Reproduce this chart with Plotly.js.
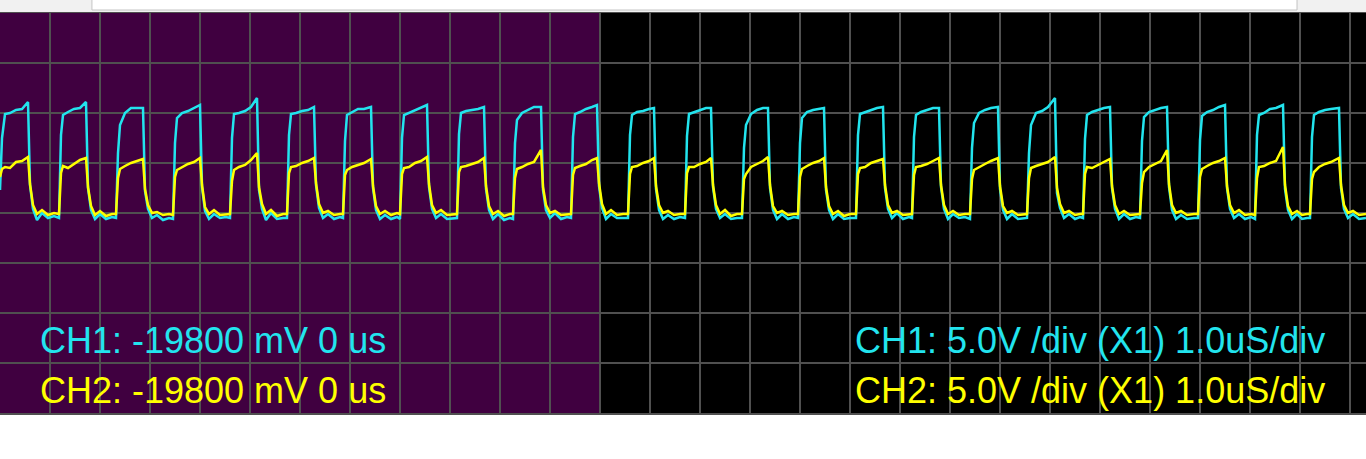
<!DOCTYPE html>
<html>
<head>
<meta charset="utf-8">
<script src="https://cdn.plot.ly/plotly-3.0.1.min.js"></script>
<style>
html,body{margin:0;padding:0;background:#ffffff;}
#chart{width:1366px;height:459px;}
</style>
</head>
<body>
<div id="chart"></div>
<script>
// Time axis in microseconds (1.0 us per division)
var timeUs = [
  0, 0.04, 0.1, 0.2, 0.32, 0.44, 0.56, 0.6, 0.66, 0.74, 0.84, 0.96, 1.08,
  1.18, 1.22, 1.26, 1.36, 1.48, 1.6, 1.72, 1.76, 1.82, 1.9, 2.0, 2.12, 2.24,
  2.32, 2.36, 2.4, 2.5, 2.62, 2.74, 2.86, 2.9, 2.96, 3.04, 3.14, 3.26, 3.38,
  3.46, 3.5, 3.54, 3.64, 3.76, 3.88, 4.0, 4.04, 4.1, 4.18, 4.28, 4.4, 4.52,
  4.6, 4.64, 4.68, 4.78, 4.9, 5.02, 5.14, 5.18, 5.24, 5.32, 5.42, 5.54, 5.66,
  5.74, 5.78, 5.82, 5.92, 6.04, 6.16, 6.28, 6.32, 6.38, 6.46, 6.56, 6.68, 6.8,
  6.86, 6.9, 6.94, 7.04, 7.16, 7.28, 7.42, 7.46, 7.52, 7.6, 7.7, 7.82, 7.94,
  8.0, 8.04, 8.08, 8.18, 8.3, 8.42, 8.54, 8.58, 8.64, 8.72, 8.82, 8.94, 9.06,
  9.14, 9.18, 9.22, 9.32, 9.44, 9.56, 9.68, 9.72, 9.78, 9.86, 9.96, 10.08, 10.2,
  10.26, 10.3, 10.34, 10.44, 10.56, 10.68, 10.82, 10.86, 10.92, 11.0, 11.1, 11.22, 11.34,
  11.42, 11.46, 11.5, 11.6, 11.72, 11.84, 11.94, 11.98, 12.04, 12.12, 12.22, 12.34, 12.46,
  12.56, 12.6, 12.64, 12.74, 12.86, 12.98, 13.08, 13.12, 13.18, 13.26, 13.36, 13.48, 13.6,
  13.7, 13.74, 13.78, 13.88, 14.0, 14.12, 14.22, 14.26, 14.32, 14.4, 14.5, 14.62, 14.74,
  14.84, 14.88, 14.92, 15.02, 15.14, 15.26, 15.36, 15.4, 15.46, 15.54, 15.64, 15.76, 15.88,
  15.96, 16.0, 16.04, 16.14, 16.26, 16.38, 16.48, 16.52, 16.58, 16.66, 16.76, 16.88, 17.0,
  17.12, 17.16, 17.2, 17.3, 17.42, 17.54, 17.66, 17.7, 17.76, 17.84, 17.94, 18.06, 18.18,
  18.24, 18.28, 18.32, 18.42, 18.54, 18.66, 18.78, 18.82, 18.88, 18.96, 19.06, 19.18, 19.3,
  19.4, 19.44, 19.48, 19.58, 19.7, 19.82, 19.96, 20.0, 20.06, 20.14, 20.24, 20.36, 20.48,
  20.54, 20.58, 20.62, 20.72, 20.84, 20.96, 21.1, 21.14, 21.2, 21.28, 21.38, 21.5, 21.6,
  21.66, 21.7, 21.74, 21.84, 21.96, 22.08, 22.2, 22.24, 22.3, 22.38, 22.48, 22.6, 22.72,
  22.8, 22.84, 22.88, 22.98, 23.1, 23.22, 23.34, 23.38, 23.44, 23.52, 23.62, 23.74, 23.88,
  23.96, 24.0, 24.04, 24.14, 24.26, 24.38, 24.5, 24.54, 24.6, 24.68, 24.78, 24.9, 25.02,
  25.1, 25.14, 25.18, 25.28, 25.4, 25.52, 25.66, 25.7, 25.76, 25.84, 25.94, 26.04, 26.14,
  26.2, 26.24, 26.28, 26.38, 26.5, 26.62, 26.78, 26.82, 26.88, 26.96, 27.06, 27.18, 27.32
];

// CH1 (cyan) in volts
var ch1Volts = [
  2.3, 7.5, 9.9, 10.0, 10.3, 10.4, 11.1, 2.8, 0.4, -0.7, 0.0, -0.5, -0.3,
  -0.5, 7.8, 9.8, 10.1, 10.4, 10.5, 11.1, 2.5, 0.3, -0.6, -0.1, -0.6, -0.4,
  -0.5, 6.0, 8.8, 10.0, 10.5, 10.5, 10.5, 2.2, 0.4, -0.5, -0.2, -0.7, -0.5,
  -0.6, 7.0, 9.5, 10.0, 10.2, 10.5, 10.8, 2.6, 0.2, -0.6, -0.1, -0.5, -0.4,
  -0.5, 7.5, 9.9, 10.0, 10.2, 10.6, 11.5, 2.3, 0.4, -0.7, 0.0, -0.6, -0.5,
  -0.5, 7.8, 9.9, 10.0, 10.2, 10.3, 10.6, 2.8, 0.5, -0.5, -0.1, -0.6, -0.4,
  -0.5, 7.2, 9.8, 10.1, 10.4, 10.4, 10.6, 2.5, 0.3, -0.6, -0.2, -0.6, -0.4,
  -0.6, 7.5, 9.8, 10.0, 10.3, 10.5, 10.8, 2.6, 0.4, -0.5, -0.1, -0.6, -0.5,
  -0.5, 7.9, 10.0, 10.2, 10.3, 10.4, 10.6, 2.4, 0.3, -0.6, -0.1, -0.7, -0.5,
  -0.6, 7.0, 9.3, 10.0, 10.3, 10.6, 10.6, 2.3, 0.3, -0.5, 0.0, -0.6, -0.4,
  -0.5, 7.6, 9.9, 10.1, 10.4, 10.6, 10.8, 2.7, 0.5, -0.6, -0.1, -0.5, -0.5,
  -0.5, 7.8, 9.8, 10.1, 10.2, 10.4, 10.5, 2.4, 0.3, -0.6, -0.2, -0.6, -0.4,
  -0.5, 7.7, 9.9, 10.1, 10.3, 10.5, 10.5, 2.6, 0.4, -0.5, -0.1, -0.6, -0.5,
  -0.5, 6.5, 8.8, 9.9, 10.3, 10.5, 10.5, 2.5, 0.3, -0.6, -0.1, -0.6, -0.4,
  -0.5, 7.0, 9.5, 10.1, 10.3, 10.4, 10.5, 2.3, 0.3, -0.6, -0.1, -0.6, -0.5,
  -0.5, 7.8, 9.9, 10.1, 10.3, 10.5, 10.6, 2.5, 0.4, -0.5, 0.0, -0.6, -0.4,
  -0.5, 7.6, 9.8, 10.1, 10.3, 10.5, 10.5, 2.6, 0.4, -0.6, -0.1, -0.5, -0.4,
  -0.6, 6.5, 9.0, 10.0, 10.3, 10.5, 10.6, 2.4, 0.3, -0.6, -0.1, -0.6, -0.5,
  -0.5, 6.0, 8.8, 10.0, 10.2, 10.6, 11.5, 2.0, 0.5, -0.5, -0.1, -0.6, -0.4,
  -0.5, 7.4, 9.8, 10.1, 10.3, 10.5, 10.6, 2.5, 0.4, -0.6, -0.1, -0.6, -0.4,
  -0.5, 7.2, 9.6, 10.1, 10.3, 10.5, 10.6, 2.6, 0.3, -0.6, -0.2, -0.6, -0.5,
  -0.5, 7.3, 9.7, 10.1, 10.3, 10.6, 10.8, 2.5, 0.4, -0.5, -0.1, -0.6, -0.4,
  -0.6, 7.8, 9.8, 10.0, 10.4, 10.5, 10.8, 2.4, 0.3, -0.6, -0.1, -0.6, -0.5,
  -0.5, 7.6, 9.8, 10.1, 10.3, 10.4, 10.5, 2.5, 0.4, -0.5, -0.1, -0.6, -0.5
];

// CH2 (yellow) in volts
var ch2Volts = [
  3.6, 4.4, 4.6, 4.5, 5.1, 5.2, 5.6, 2.9, 0.8, -0.1, 0.3, -0.2, 0.0,
  -0.1, 4.0, 4.7, 4.5, 4.9, 5.3, 5.5, 2.6, 0.7, -0.2, 0.2, -0.3, -0.1,
  -0.1, 3.5, 4.4, 4.7, 5.0, 5.2, 5.4, 2.4, 0.8, 0.0, 0.1, -0.2, -0.1,
  -0.2, 3.6, 4.3, 4.6, 4.9, 5.1, 5.5, 2.8, 0.6, -0.1, 0.3, -0.2, -0.1,
  -0.1, 3.2, 4.3, 4.6, 4.8, 5.3, 6.0, 2.6, 0.9, -0.1, 0.3, -0.3, -0.1,
  -0.1, 4.0, 4.6, 4.7, 5.0, 5.2, 5.5, 3.0, 0.9, 0.0, 0.2, -0.2, -0.1,
  -0.1, 3.8, 4.3, 4.6, 4.8, 5.0, 5.4, 2.7, 0.7, -0.1, 0.2, -0.2, 0.0,
  -0.1, 3.9, 4.5, 4.6, 5.0, 5.2, 5.6, 2.9, 0.8, 0.0, 0.3, -0.2, -0.1,
  -0.1, 4.1, 4.6, 4.7, 4.9, 5.1, 5.5, 2.7, 0.7, -0.1, 0.2, -0.3, -0.1,
  -0.1, 3.5, 4.4, 4.6, 4.9, 5.1, 6.3, 2.6, 0.8, 0.0, 0.2, -0.2, -0.1,
  -0.1, 3.8, 4.5, 4.7, 4.9, 5.3, 5.5, 3.0, 0.9, -0.1, 0.3, -0.2, -0.1,
  -0.1, 3.9, 4.6, 4.7, 5.0, 5.2, 5.5, 2.7, 0.8, 0.0, 0.2, -0.2, -0.1,
  -0.1, 4.0, 4.6, 4.6, 4.9, 5.1, 5.5, 2.8, 0.8, -0.1, 0.3, -0.3, -0.1,
  -0.1, 3.4, 3.9, 4.6, 4.9, 5.2, 5.6, 2.8, 0.7, 0.0, 0.2, -0.2, -0.1,
  -0.1, 3.6, 4.4, 4.7, 5.0, 5.2, 5.5, 2.6, 0.7, -0.1, 0.2, -0.3, -0.1,
  -0.1, 3.9, 4.5, 4.6, 5.0, 5.2, 5.4, 2.8, 0.8, 0.0, 0.2, -0.2, -0.1,
  -0.1, 3.8, 4.6, 4.7, 4.9, 5.2, 5.5, 2.8, 0.8, -0.1, 0.2, -0.2, -0.1,
  -0.1, 3.4, 4.3, 4.6, 4.9, 5.2, 5.5, 2.7, 0.7, 0.0, 0.2, -0.2, -0.1,
  -0.1, 3.5, 4.5, 4.7, 4.9, 5.1, 5.6, 2.5, 0.9, 0.0, 0.2, -0.2, -0.1,
  -0.1, 3.9, 4.6, 4.5, 4.8, 5.1, 5.4, 2.7, 0.8, -0.1, 0.2, -0.2, -0.1,
  -0.1, 3.0, 4.1, 4.6, 4.9, 5.2, 6.3, 2.9, 0.8, 0.0, 0.2, -0.2, -0.1,
  -0.1, 3.6, 4.4, 4.7, 5.0, 5.2, 5.5, 2.7, 0.8, 0.0, 0.3, -0.2, -0.1,
  -0.2, 3.5, 4.6, 4.7, 5.0, 5.2, 6.6, 2.8, 0.7, -0.1, 0.2, -0.2, -0.1,
  -0.1, 3.4, 4.1, 4.6, 4.9, 5.1, 5.5, 2.8, 0.8, 0.0, 0.2, -0.2, -0.1
];

var infoLeft = ["CH1: -19800 mV 0 us", "CH2: -19800 mV 0 us"];
var infoRight = ["CH1: 5.0V /div (X1) 1.0uS/div", "CH2: 5.0V /div (X1) 1.0uS/div"];

var CYAN = '#22e4ee';
var YELLOW = '#ffff00';
var GRID = '#505050';
var FONT = 'Arial, "Liberation Sans", sans-serif';

var traces = [
  {x: timeUs, y: ch1Volts, type: 'scatter', mode: 'lines', name: 'CH1',
   line: {color: CYAN, width: 2.5}, hoverinfo: 'skip'},
  {x: timeUs, y: ch2Volts, type: 'scatter', mode: 'lines', name: 'CH2',
   line: {color: YELLOW, width: 2.5}, hoverinfo: 'skip'}
];

var layout = {
  width: 1366, height: 459,
  margin: {l: 0, r: 0, t: 13, b: 46, pad: 0},
  paper_bgcolor: '#ffffff',
  plot_bgcolor: '#000000',
  showlegend: false,
  xaxis: {range: [0, 27.32], tick0: 0, dtick: 1, showgrid: true, gridcolor: GRID, gridwidth: 2,
          zeroline: false, showticklabels: false, ticks: '', showline: true, mirror: true,
          linecolor: GRID, linewidth: 2, fixedrange: true},
  yaxis: {range: [-20, 20], tick0: 0, dtick: 5, showgrid: true, gridcolor: GRID, gridwidth: 2,
          zeroline: false, showticklabels: false, ticks: '', showline: true, mirror: true,
          linecolor: GRID, linewidth: 2, fixedrange: true},
  shapes: [
    {type: 'rect', xref: 'x', yref: 'y', x0: 0, x1: 12, y0: -20, y1: 20,
     fillcolor: '#400040', line: {width: 0}, layer: 'below'},
    {type: 'rect', xref: 'paper', yref: 'paper', x0: 0, x1: 1, y0: 1.0025, y1: 1.04,
     fillcolor: '#f1f1f1', line: {width: 0}, layer: 'above'},
    {type: 'rect', xref: 'paper', yref: 'paper', x0: 0.0673, x1: 0.9495, y0: 1.0075, y1: 1.05,
     fillcolor: '#ffffff', line: {width: 1, color: '#c4c4c4'}, layer: 'above'}
  ],
  annotations: [
    {text: infoLeft[0], x: 0.76, y: -12.75, xref: 'x', yref: 'y', xanchor: 'left', yanchor: 'middle',
     showarrow: false, font: {family: FONT, size: 36, color: CYAN}},
    {text: infoLeft[1], x: 0.76, y: -17.75, xref: 'x', yref: 'y', xanchor: 'left', yanchor: 'middle',
     showarrow: false, font: {family: FONT, size: 36, color: YELLOW}},
    {text: infoRight[0], x: 17.06, y: -12.75, xref: 'x', yref: 'y', xanchor: 'left', yanchor: 'middle',
     showarrow: false, font: {family: FONT, size: 36, color: CYAN}},
    {text: infoRight[1], x: 17.06, y: -17.75, xref: 'x', yref: 'y', xanchor: 'left', yanchor: 'middle',
     showarrow: false, font: {family: FONT, size: 36, color: YELLOW}}
  ]
};

Plotly.newPlot('chart', traces, layout, {displayModeBar: false, staticPlot: true});
</script>
</body>
</html>
